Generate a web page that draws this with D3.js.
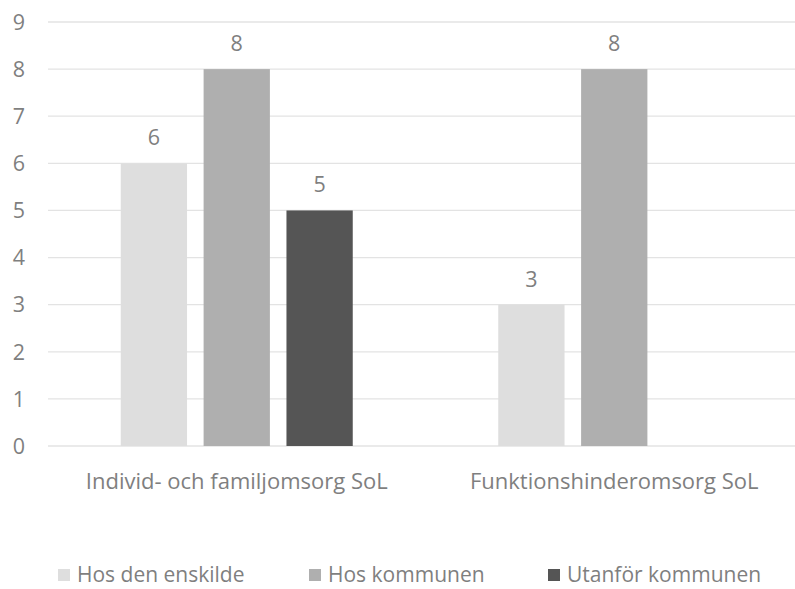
<!DOCTYPE html>
<html>
<head>
<meta charset="utf-8">
<script src="https://cdn.jsdelivr.net/npm/d3@7"></script>
<style>
  body { margin: 0; background: #fff; overflow: hidden; }
  svg { display: block; }
  text { font-family: "Open Sans", sans-serif; fill: #7f7f7f; }
</style>
</head>
<body>
<svg id="chart" width="795" height="589"></svg>
<script>
// data
const categories = ['Individ- och familjomsorg SoL', 'Funktionshinderomsorg SoL']
const seriesNames = ['Hos den enskilde', 'Hos kommunen', 'Utanför kommunen']
const seriesColors = ['#dedede', '#afafaf', '#555555']
const hosEnskilde = [6, 3]
const hosKommunen = [8, 8]
const utanforKommunen = [5, null]
const yTicks = [0, 1, 2, 3, 4, 5, 6, 7, 8, 9]

const values = [hosEnskilde, hosKommunen, utanforKommunen]

const width = 795
const height = 589
const margin = {top: 22, right: -8, bottom: 143, left: 48}
const fontSize = 21.5

const svg = d3.select('#chart')

const x = d3.scaleBand()
  .domain(categories)
  .range([margin.left, width - margin.right])

const x1 = d3.scaleBand()
  .domain(seriesNames)
  .range([0, 232])
  .paddingInner(0.2)

const y = d3.scaleLinear()
  .domain([0, 9])
  .range([height - margin.bottom, margin.top])

// gridlines
svg.append('g')
  .selectAll('line')
  .data(yTicks)
  .enter().append('line')
  .attr('x1', margin.left)
  .attr('x2', width)
  .attr('y1', d => y(d))
  .attr('y2', d => y(d))
  .attr('stroke', '#e3e3e3')
  .attr('stroke-width', 1.3)

// y tick labels
svg.append('g')
  .selectAll('text')
  .data(yTicks)
  .enter().append('text')
  .attr('x', 19)
  .attr('y', d => y(d))
  .attr('dy', '0.36em')
  .attr('text-anchor', 'middle')
  .attr('font-size', fontSize)
  .text(d => d)

// bars
const groupOffset = c => x(c) + x.bandwidth() / 2 - 116
const bars = []
seriesNames.forEach((s, i) => {
  categories.forEach((c, j) => {
    if (values[i][j] != null) bars.push({series: s, cat: c, value: values[i][j], color: seriesColors[i]})
  })
})

svg.append('g')
  .selectAll('rect')
  .data(bars)
  .enter().append('rect')
  .attr('x', d => groupOffset(d.cat) + x1(d.series))
  .attr('y', d => y(d.value))
  .attr('width', x1.bandwidth())
  .attr('height', d => y(0) - y(d.value))
  .attr('fill', d => d.color)

// value labels
svg.append('g')
  .selectAll('text')
  .data(bars)
  .enter().append('text')
  .attr('x', d => groupOffset(d.cat) + x1(d.series) + x1.bandwidth() / 2)
  .attr('y', d => y(d.value) - 18)
  .attr('text-anchor', 'middle')
  .attr('font-size', fontSize)
  .text(d => d.value)

// category labels
svg.append('g')
  .selectAll('text')
  .data(categories)
  .enter().append('text')
  .attr('x', d => x(d) + x.bandwidth() / 2)
  .attr('y', 489)
  .attr('text-anchor', 'middle')
  .attr('font-size', 22)
  .text(d => d)

// legend
const legendX = [58, 309, 548]
const legend = svg.append('g')
  .selectAll('g')
  .data(seriesNames)
  .enter().append('g')
  .attr('transform', (d, i) => `translate(${legendX[i]}, 582)`)

legend.append('rect')
  .attr('x', 0)
  .attr('y', -13)
  .attr('width', 12)
  .attr('height', 12)
  .attr('fill', (d, i) => seriesColors[i])

legend.append('text')
  .attr('x', 19)
  .attr('y', 0)
  .attr('font-size', 21)
  .text(d => d)
</script>
</body>
</html>
